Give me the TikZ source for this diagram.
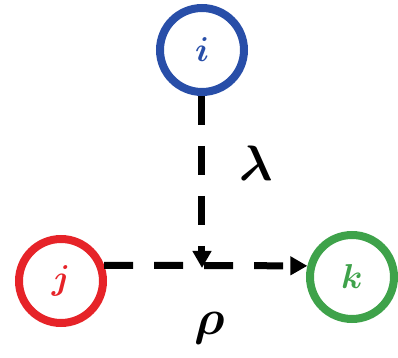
\documentclass[tikz,border=0pt]{standalone}
\usepackage{amsmath,bm}
\usetikzlibrary{arrows.meta}
\definecolor{nodeblue}{RGB}{40,78,168}
\definecolor{nodered}{RGB}{230,35,40}
\definecolor{nodegreen}{RGB}{62,162,74}
\begin{document}
\begin{tikzpicture}[x=0.5pt, y=-0.5pt,
                    vertex/.style={draw, circle, line width=4pt, minimum size=42pt, inner sep=0pt, font=\fontsize{17}{19}\selectfont},
                    dashline/.style={line width=3.5pt, dash pattern=on 14.5pt off 10.5pt, -{Triangle[length=8.5pt, width=9pt]}},
                    greek/.style={font=\fontsize{24}{28}\selectfont, inner sep=0pt}
                    ]
                    \useasboundingbox (0,0) rectangle (398,358);

                    \node[vertex, nodeblue] (i) at (202,50) {$\bm{i}$};
                    \node[vertex, nodered] (j) at (61,281) {$\bm{j}$};
                    \node[vertex, nodegreen] (k) at (352,277) {$\bm{k}$};
                    \coordinate (m) at (202,268);

                    \node[greek] (lambda) at (256,163) {$\bm{\lambda}$};
                    \node[greek] (rho) at (210,328) {$\bm{\rho}$};

                    \foreach \a/\b in {i/m,j.20/k.166}{
                        \draw[dashline] (\a) -- (\b);
                    }

                \end{tikzpicture}
\end{document}
